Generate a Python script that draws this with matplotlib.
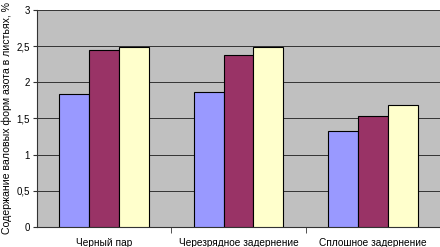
import numpy as np
import matplotlib.pyplot as plt

plt.rcParams['font.family'] = ['Liberation Sans', 'DejaVu Sans']

categories = ['Черный пар', 'Черезрядное задернение', 'Сплошное задернение']
series_a = [1.84, 1.87, 1.32]
series_b = [2.44, 2.37, 1.54]
series_c = [2.49, 2.49, 1.68]
yticks = [0, 0.5, 1, 1.5, 2, 2.5, 3]
ylabels = ['0', '0,5', '1', '1,5', '2', '2,5', '3']

fig = plt.figure(figsize=(4.4, 2.47), dpi=100)
ax = fig.add_axes([0.084, 0.081, 0.916, 0.879])
ax.set_facecolor('#C0C0C0')

x = np.arange(len(categories))
w = 0.222
colors = ['#9999FF', '#993366', '#FFFFCC']
for i, vals in enumerate([series_a, series_b, series_c]):
    ax.bar(x + (i - 1) * w, vals, w, color=colors[i], edgecolor='black', linewidth=0.8, zorder=3)

ax.set_ylim(0, 3)
ax.set_xlim(-0.5, 2.5)
ax.set_yticks(yticks)
ax.set_yticklabels(ylabels, fontsize=7)
ax.yaxis.grid(True, color='#333333', linewidth=0.7, zorder=0)
ax.set_xticks(x)
ax.set_xticklabels(categories, fontsize=7.3)
ax.tick_params(axis='x', length=0, pad=8)
ax.set_xticks([0.5, 1.5, 2.5], minor=True)
ax.tick_params(axis='x', which='minor', length=4, color='#333333')
ax.tick_params(axis='y', length=3, color='#333333', pad=2)
for s in ['top', 'right']:
    ax.spines[s].set_visible(False)
ax.spines['left'].set_color('#333333')
ax.spines['bottom'].set_color('#333333')
ax.set_ylabel('Содержание валовых форм азота в листьях, %', fontsize=7.6, labelpad=3)

fig.savefig('out.png', dpi=100)
